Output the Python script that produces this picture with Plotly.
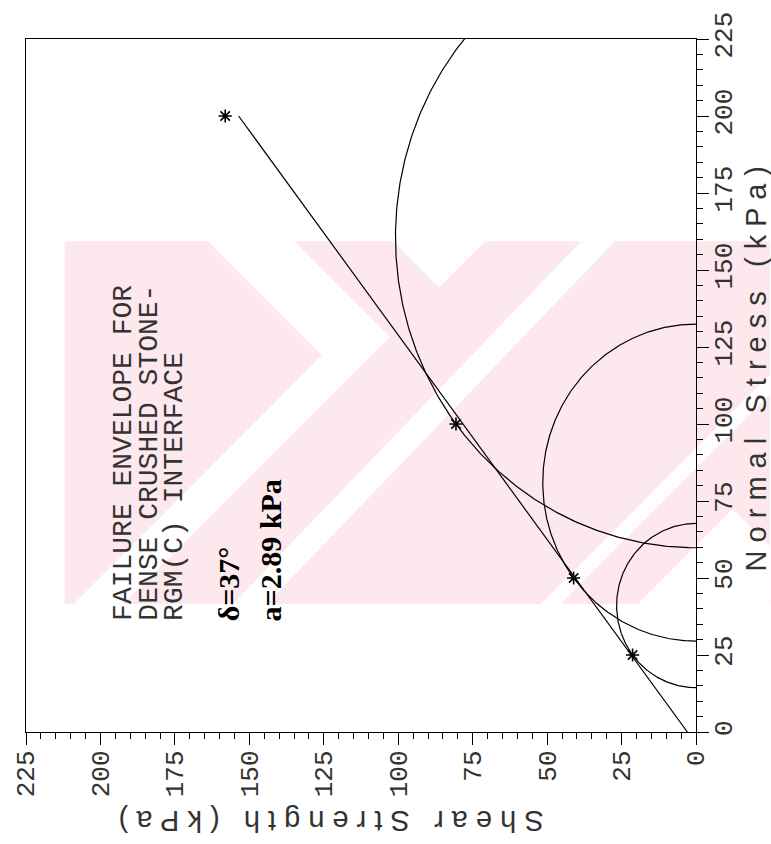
import numpy as np
import plotly.graph_objects as go

# Interface direct-shear results (kPa)
normal_stress = [25, 50, 100, 200]
shear_strength = [21.3, 41.1, 80.6, 158.1]
mohr_tests = [0, 1, 2]            # tests with a Mohr circle drawn

# Failure envelope parameters
delta_deg = 37.0
adhesion = 2.89

tick_values = [0, 25, 50, 75, 100, 125, 150, 175, 200, 225]
tick_labels = [str(v) for v in tick_values]

W, H = 771, 844
ML, MR, MT, MB = 19, 75, 33, 112
PW, PH = W - ML - MR, H - MT - MB


def px(xp, yp):
    """pixel position -> paper coordinates"""
    return (xp - ML) / PW, (H - MB - yp) / PH


def poly_path(points):
    pts = [px(x, y) for x, y in points]
    return "M " + " L ".join(f"{a:.5f},{b:.5f}" for a, b in pts) + " Z"


tan_d = np.tan(np.radians(delta_deg))
cos_d = np.cos(np.radians(delta_deg))

fig = go.Figure()

# Mohr circles tangent to the envelope at the test points
theta = np.linspace(0, np.pi, 400)
for i in mohr_tests:
    s, t = normal_stress[i], shear_strength[i]
    centre = s + t * tan_d
    radius = t / cos_d
    fig.add_trace(go.Scatter(
        x=radius * np.sin(theta), y=centre + radius * np.cos(theta),
        mode="lines", line=dict(color="black", width=1.2),
        hoverinfo="skip", showlegend=False))

# failure envelope  tau = a + sigma * tan(delta)
sig = np.array([0, max(normal_stress)])
fig.add_trace(go.Scatter(
    x=adhesion + sig * tan_d, y=sig, mode="lines",
    line=dict(color="black", width=1.2), showlegend=False))

# test points
fig.add_trace(go.Scatter(
    x=shear_strength, y=normal_stress, mode="markers",
    marker=dict(symbol="asterisk-open", size=11, color="black",
                line=dict(color="black", width=1.6)),
    showlegend=False))
fig.add_trace(go.Scatter(
    x=shear_strength, y=normal_stress, mode="markers",
    marker=dict(symbol="circle", size=4, color="black"),
    showlegend=False))

# pale striped logo behind the plot
pink = "rgb(252,232,237)"
logo_pink = [
    [(58, 237), (771, 237), (771, 603), (58, 603)],
]
logo_white = [
    # stripes of the left bar, cut by the crossing bar
    [(203, 237), (290, 237), (386.5, 333.5), (343, 377)],
    [(390, 237), (483, 237), (436.5, 283.5)],
    [(318, 352), (343, 377), (117, 603), (67, 603)],
    # stripes of the crossing bar
    [(580, 237), (614, 237), (262, 603), (228, 603)],
    [(771, 371), (771, 391), (559, 603), (539, 603)],
    # lower right notch
    [(637, 603), (733, 507), (771, 545), (771, 603)],
]
shapes = []
for poly in logo_pink:
    shapes.append(dict(type="path", xref="paper", yref="paper",
                       layer="below", path=poly_path(poly),
                       fillcolor=pink, line=dict(width=0)))
for poly in logo_white:
    shapes.append(dict(type="path", xref="paper", yref="paper",
                       layer="below", path=poly_path(poly),
                       fillcolor="white", line=dict(width=0)))

tick_font = dict(family="Liberation Mono", size=26, color="#333")

axis_common = dict(
    tickmode="array", tickvals=tick_values, ticktext=tick_labels,
    ticks="outside", ticklen=12, tickwidth=1.2, tickcolor="black",
    showline=True, linecolor="black", linewidth=1.2, mirror=True,
    showgrid=False, zeroline=False, tickangle=-90, tickfont=tick_font,
    minor=dict(dtick=5, ticks="outside", ticklen=6, tickwidth=1,
               tickcolor="black", showgrid=False),
)

fig.update_layout(
    width=W, height=H,
    margin=dict(l=ML, r=MR, t=MT, b=MB),
    paper_bgcolor="white", plot_bgcolor="rgba(0,0,0,0)",
    xaxis=dict(range=[225, 0], ticklabelstandoff=-5, **axis_common),
    yaxis=dict(range=[0, 225], side="right", ticklabelstandoff=-8,
               **axis_common),
    shapes=shapes,
)

label_font = dict(family="Liberation Mono", size=28, color="#333")
notes = [
    (118, "FAILURE ENVELOPE FOR"),
    (144, "DENSE CRUSHED STONE-"),
    (169, "RGM(C) INTERFACE"),
]
for xp, txt in notes:
    ax, ay = px(xp, 622)
    fig.add_annotation(x=ax, y=ay, xref="paper", yref="paper", text=txt,
                       textangle=-90, showarrow=False, xanchor="center",
                       yanchor="bottom", font=label_font)

bold_font = dict(family="Liberation Serif", size=30, color="black",
                 weight="bold")
for xp, txt in [(224, f"δ={delta_deg:.0f}°"), (266, f"a={adhesion} kPa")]:
    ax, ay = px(xp, 622)
    fig.add_annotation(x=ax, y=ay, xref="paper", yref="paper", text=txt,
                       textangle=-90, showarrow=False, xanchor="center",
                       yanchor="bottom", font=bold_font)

title_font = dict(family="Liberation Sans", size=29, color="#333")
ax, ay = px(757, 365)
fig.add_annotation(x=ax, y=ay, xref="paper", yref="paper",
                   text="N o r m a l   S t r e s s   ( k P a )",
                   textangle=-90, showarrow=False, xanchor="center",
                   yanchor="middle", font=title_font)
ax, ay = px(327, 822)
fig.add_annotation(x=ax, y=ay, xref="paper", yref="paper",
                   text="S h e a r   S t r e n g t h   ( k P a )",
                   textangle=180, showarrow=False, xanchor="center",
                   yanchor="middle", font=title_font)

fig.write_html("out.html")
